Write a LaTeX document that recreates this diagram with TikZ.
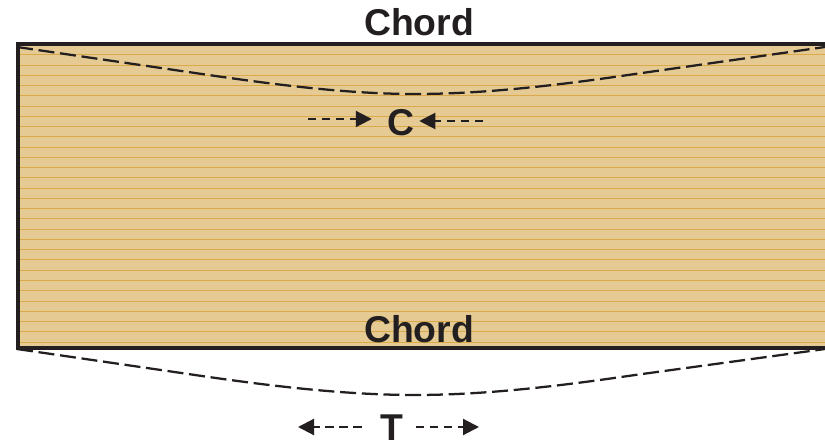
\documentclass[tikz,border=0pt]{standalone}
\usepackage{fontspec}
\setmainfont{Liberation Sans}
\usetikzlibrary{arrows.meta}
\definecolor{wood}{HTML}{E5CB93}
\definecolor{grain}{HTML}{DBA94A}
\definecolor{ink}{HTML}{231F20}
\tikzset{
  x=0.75pt,y=-0.75pt,
  grainline/.style={grain,line width=0.8pt},
  frame/.style={ink,line width=3pt,line cap=round},
  sag/.style={ink,line width=1.7pt,dash pattern=on 12pt off 4.3pt},
  force/.style={ink,line width=1.6pt,dash pattern=on 6.2pt off 4.3pt,-{Triangle[length=12pt,width=12pt]}},
  lbl/.style={ink,font=\bfseries\fontsize{28}{28}\selectfont,anchor=base,inner sep=0pt}
}
\begin{document}
\begin{tikzpicture}
\useasboundingbox (0,0) rectangle (825,445);
\fill[wood] (18,44) rectangle (825,348);
\foreach \i in {0,...,28} {
  \pgfmathsetmacro{\yy}{round(54.3+10.26*\i)+0.5}
  \draw[grainline] (20,\yy) -- (825,\yy);
}
\draw[frame] (825,44) -- (18,44) -- (18,348) -- (825,348);
\draw[sag] (17,47) -- (195,73) .. controls (270,84) and (345,94) .. (415,94) .. controls (485,94) and (560,85) .. (635,74) -- (825,47);
\draw[sag] (17,349) -- (195,375) .. controls (270,386) and (345,395) .. (415,395) .. controls (485,395) and (560,386) .. (635,375) -- (825,349);
\node[lbl] (chordtop) at (419,36) {Chord};
\node[lbl] (chordbot) at (419,343) {Chord};
\node[lbl] (C) at (401,135.5) {C};
\node[lbl] (T) at (392,440.5) {T};
\coordinate (cl) at (308,119);
\coordinate (cr) at (483,121);
\coordinate (tl) at (298,427);
\coordinate (tr) at (479,427);
\draw[force,shorten >=11.6pt] (cl) -- (cl -| C.west);
\draw[force,shorten >=3.4pt] (cr) -- (cr -| C.east);
\draw[force,shorten <=14pt] (tl -| T.west) -- (tl);
\draw[force,shorten <=9.4pt] (tr -| T.east) -- (tr);
\end{tikzpicture}
\end{document}
